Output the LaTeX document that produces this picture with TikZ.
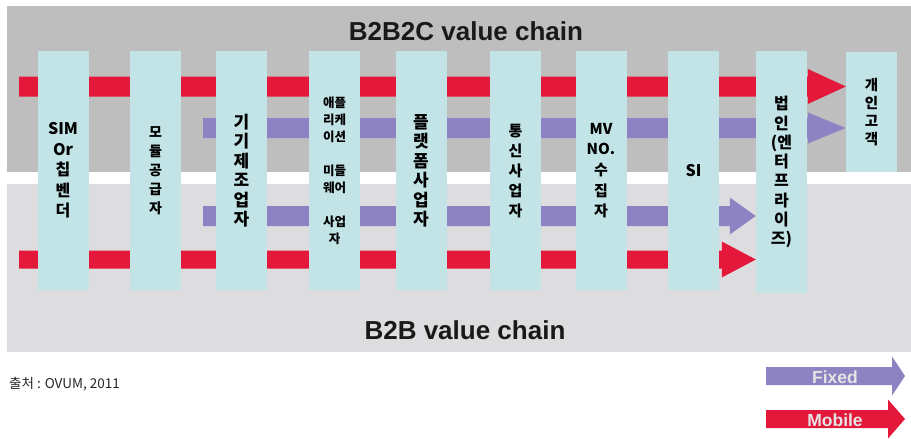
\documentclass[tikz,border=0pt]{standalone}
\usepackage{fontspec}
\setmainfont{Liberation Sans}
\newfontfamily\krfont{Noto Sans CJK KR}
\usetikzlibrary{positioning,calc}
\definecolor{upgray}{HTML}{BEBEBE}
\definecolor{lowgray}{HTML}{DDDDDF}
\definecolor{colcyan}{HTML}{C3E4E6}
\definecolor{mobred}{HTML}{E3183B}
\definecolor{fixpurple}{HTML}{8D82C2}
\definecolor{legtext}{HTML}{E4E4E4}
\pgfdeclarelayer{bands}
\pgfdeclarelayer{flows}
\pgfsetlayers{bands,flows,main}
\tikzset{
  actor/.style={fill=colcyan, minimum width=51pt, minimum height=239pt,
    inner sep=0pt, anchor=north, align=center, text=black},
  fsz/.style n args={2}{font=\krfont\bfseries\fontsize{#1}{#2}\selectfont},
  chaintitle/.style={font=\bfseries\fontsize{26}{30}\selectfont, text=black!90},
  legtxt/.style={font=\bfseries\fontsize{17.5}{20}\selectfont, text=legtext, inner sep=0pt},
  srcnote/.style={font=\krfont\fontsize{13.5}{15}\selectfont, text=black!85, inner sep=0pt},
}
% fat flow bar: colour, start, tip, body half, head half, head length
\newcommand\flowbar[6]{%
  \fill[#1] let \p1=(#2), \p2=(#3) in
    (\x1,{\y1-#4}) -- ({\x2-#6},{\y1-#4}) -- ({\x2-#6},{\y2-#5}) -- (\x2,\y2)
    -- ({\x2-#6},{\y2+#5}) -- ({\x2-#6},{\y1+#4}) -- (\x1,{\y1+#4}) -- cycle;
}
\begin{document}
\begin{tikzpicture}[x=1pt,y=-1pt]
  \useasboundingbox (0,0) rectangle (911,439);
  % the two value chain bands
  \begin{pgfonlayer}{bands}
    \fill[white] (0,0) rectangle (911,439);
    \fill[upgray] (7,6) rectangle (911,172);
    \fill[lowgray] (7,184) rectangle (911,352);
  \end{pgfonlayer}
  \node[chaintitle] (b2b2c) at (466,31) {B2B2C value chain};
  \node[chaintitle] (b2b) at (465,330) {B2B value chain};

  % players along the chain
  \node[actor, fsz={16}{20.5}] (simvendor) at (63,51) {SIM\\Or\\칩\\벤\\더};
  \node[actor, fsz={14}{19}] (modsupply) at (155.5,51) {모\\듈\\공\\급\\자};
  \node[actor, fsz={17}{19.5}] (devmaker) at (241.5,51) {기\\기\\제\\조\\업\\자};
  \node[actor, fsz={12.5}{17}] (appmw) at (334.5,51) {애플\\리케\\이션\\[17pt]미들\\웨어\\[17pt]사업\\자};
  \node[actor, fsz={17}{19.5}] (platform) at (421,51) {플\\랫\\폼\\사\\업\\자};
  \node[actor, fsz={15}{20}] (telco) at (515.5,51) {통\\신\\사\\업\\자};
  \node[actor, fsz={15}{20.7}] (mvno) at (601,51) {MV\\NO.\\수\\집\\자};
  \node[actor, fsz={16}{20}] (sint) at (693.5,51) {SI};
  \node[actor, fsz={16}{19.3}, minimum height=242pt] (enterprise) at (781.5,51)
    {법\\인\\(엔\\터\\프\\라\\이\\즈)};
  \node[actor, fsz={14.5}{18}, minimum height=120pt] (consumer) at (871.5,52) {개\\인\\고\\객};

  % mobile and fixed flows
  \coordinate (mobtop) at (19,86.5);
  \coordinate (fixtop) at (203,128);
  \coordinate (fixlow) at (203,216);
  \coordinate (moblow) at (19,259.5);
  \begin{pgfonlayer}{flows}
    \flowbar{mobred}{mobtop}{consumer.west |- mobtop}{10pt}{17.5pt}{38pt}
    \flowbar{fixpurple}{fixtop}{consumer.west |- fixtop}{10pt}{15.5pt}{38pt}
    \flowbar{fixpurple}{fixlow}{enterprise.west |- fixlow}{10pt}{18.5pt}{26pt}
    \flowbar{mobred}{moblow}{enterprise.west |- moblow}{9pt}{18pt}{34pt}
  \end{pgfonlayer}

  % source and legend
  \node[srcnote, anchor=west] (source) at (9,384) {출처 : OVUM, 2011};
  \coordinate (fixleg) at (766,376);
  \coordinate (fixtip) at (905,376);
  \coordinate (mobleg) at (766,419);
  \coordinate (mobtip) at (905,419);
  \flowbar{fixpurple}{fixleg}{fixtip}{9pt}{19.5pt}{13pt}
  \flowbar{mobred}{mobleg}{mobtip}{9pt}{19.5pt}{17pt}
  \node[legtxt] (fixedlab) at (835,377) {Fixed};
  \node[legtxt] (mobilelab) at (835,420) {Mobile};
\end{tikzpicture}
\end{document}
